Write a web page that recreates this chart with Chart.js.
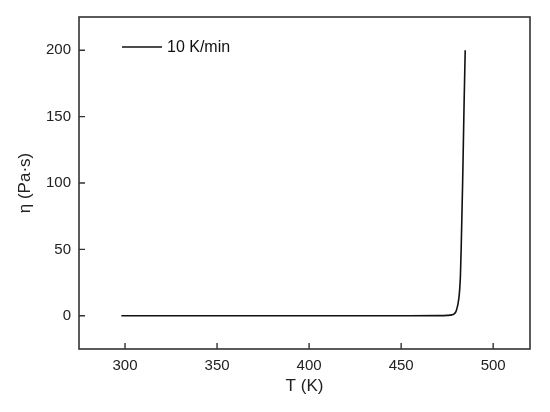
<!DOCTYPE html>
<html>
<head>
<meta charset="utf-8">
<script src="https://cdn.jsdelivr.net/npm/chart.js@4"></script>
<style>
  html, body { margin: 0; padding: 0; background: #fff; }
  #wrap { width: 550px; height: 412px; }
</style>
</head>
<body>
<div id="wrap"><canvas id="viscChart" width="550" height="412"></canvas></div>
<script>
// Viscosity vs temperature
const temps = [298, 320, 350, 400, 450, 470, 475, 477.5, 478.8, 479.7, 480.4, 481.0, 481.5, 481.9, 482.2, 482.6, 483.0, 483.4, 483.8, 484.2, 484.8];
const eta   = [0,   0,   0,   0,   0,   0.1, 0.3, 0.7,   1.5,   3,     6,     10,    15,    22,    30,    50,    75,    100,   130,   160,   200];
const seriesLabel = '10 K/min';

const xTicks = [300, 350, 400, 450, 500];
const yTicks = [0, 50, 100, 150, 200];

const FONT = "'Liberation Sans', Arial, sans-serif";
const INK = '#222';

// frame + inward ticks + legend, drawn from the chart's scales
const framePlugin = {
    id: 'frame',
    afterDraw(chart) {
        const { ctx, chartArea: a, scales } = chart;
        ctx.save();
        ctx.strokeStyle = '#333';
        ctx.lineWidth = 1.6;
        ctx.strokeRect(a.left, a.top, a.right - a.left, a.bottom - a.top);

        // ticks pointing into the plot
        ctx.lineWidth = 1.4;
        ctx.beginPath();
        xTicks.forEach(v => {
            const px = scales.x.getPixelForValue(v);
            ctx.moveTo(px, a.bottom);
            ctx.lineTo(px, a.bottom - 6);
        });
        yTicks.forEach(v => {
            const py = scales.y.getPixelForValue(v);
            ctx.moveTo(a.left, py);
            ctx.lineTo(a.left + 6, py);
        });
        ctx.stroke();

        // legend
        const ds = chart.data.datasets[0];
        const ly = a.top + 30;
        ctx.strokeStyle = ds.borderColor;
        ctx.lineWidth = ds.borderWidth;
        ctx.beginPath();
        ctx.moveTo(a.left + 43, ly);
        ctx.lineTo(a.left + 83, ly);
        ctx.stroke();
        ctx.fillStyle = '#111';
        ctx.font = '16px ' + FONT;
        ctx.textBaseline = 'middle';
        ctx.fillText(ds.label, a.left + 88, ly + 1);
        ctx.restore();
    }
};

const ctx = document.getElementById('viscChart').getContext('2d');
new Chart(ctx, {
    type: 'line',
    data: {
        datasets: [{
            label: seriesLabel,
            data: temps.map((t, i) => ({ x: t, y: eta[i] })),
            borderColor: '#111',
            borderWidth: 1.6,
            pointRadius: 0,
            fill: false,
            cubicInterpolationMode: 'monotone'
        }]
    },
    options: {
        responsive: false,
        animation: false,
        layout: { padding: { top: 14, right: 20, left: 0, bottom: 0 } },
        plugins: { legend: { display: false }, tooltip: { enabled: false } },
        scales: {
            x: {
                type: 'linear',
                min: 275,
                max: 520,
                afterBuildTicks: s => { s.ticks = xTicks.map(v => ({ value: v })); },
                afterFit: s => { s.height = 63; },
                grid: { display: false, drawTicks: false },
                border: { display: false },
                ticks: { color: INK, padding: 8, font: { family: FONT, size: 15 } },
                title: { display: true, text: 'T (K)', color: INK, padding: { top: 0, bottom: 15 }, font: { family: FONT, size: 17 } }
            },
            y: {
                min: -25,
                max: 225,
                afterBuildTicks: s => { s.ticks = yTicks.map(v => ({ value: v })); },
                afterFit: s => { s.width = 79; },
                grid: { display: false, drawTicks: false },
                border: { display: false },
                ticks: { color: INK, padding: 8, font: { family: FONT, size: 15 } },
                title: { display: true, text: 'η (Pa·s)', color: INK, padding: { top: 15, bottom: 0 }, font: { family: FONT, size: 17 } }
            }
        }
    },
    plugins: [framePlugin]
});
</script>
</body>
</html>
